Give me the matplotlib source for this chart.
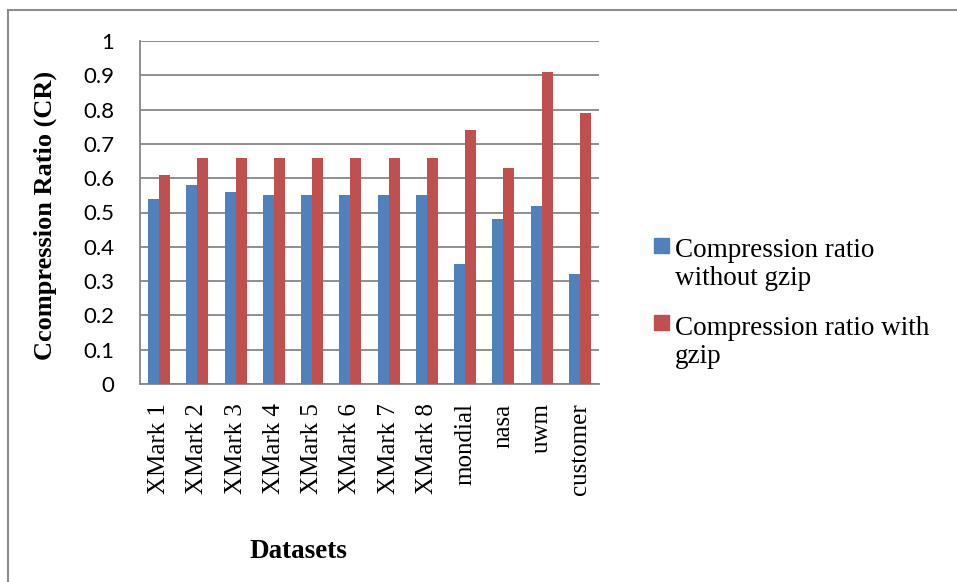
import matplotlib
matplotlib.use('Agg')
import matplotlib.pyplot as plt
import numpy as np
from matplotlib.patches import Rectangle
from matplotlib.lines import Line2D

datasets = ['XMark 1', 'XMark 2', 'XMark 3', 'XMark 4', 'XMark 5', 'XMark 6',
            'XMark 7', 'XMark 8', 'mondial', 'nasa', 'uwm', 'customer']
cr_without_gzip = [0.54, 0.58, 0.56, 0.55, 0.55, 0.55, 0.55, 0.55, 0.35, 0.48, 0.52, 0.32]
cr_with_gzip = [0.61, 0.66, 0.66, 0.66, 0.66, 0.66, 0.66, 0.66, 0.74, 0.63, 0.91, 0.79]
series_names = ['Compression ratio\nwithout gzip', 'Compression ratio with\ngzip']

blue = '#4F81BD'
red = '#C0504D'
grid_gray = '#868686'
serif = 'Liberation Serif'

W, H = 957, 582
fig = plt.figure(figsize=(W / 100, H / 100), dpi=100)
ax = fig.add_axes([140 / W, 1 - 384 / H, 459 / W, 343 / H])

x = np.arange(len(datasets))
bw = 0.29
ax.bar(x - bw / 2, cr_without_gzip, bw, color=blue, zorder=3)
ax.bar(x + bw / 2, cr_with_gzip, bw, color=red, zorder=3)

ax.set_xlim(-0.5, len(datasets) - 0.5)
ax.set_ylim(0, 1)
ax.set_yticks(np.arange(0, 1.01, 0.1))
ax.set_yticklabels(['0'] + ['%.1f' % v for v in np.arange(0.1, 0.95, 0.1)] + ['1'],
                   fontsize=16, family='Lato')
ax.set_xticks(x)
ax.set_xticklabels(datasets, rotation=90, fontsize=18, family=serif, va='top')
ax.tick_params(axis='y', length=0, pad=18.5)
ax.tick_params(axis='x', length=0, pad=14)

ax.grid(axis='y', color=grid_gray, linewidth=1.3, zorder=0)
for s in ['top', 'right']:
    ax.spines[s].set_visible(False)
for s in ['left', 'bottom']:
    ax.spines[s].set_color(grid_gray)
    ax.spines[s].set_linewidth(1.3)

fig.text(45 / W, 1 - 215 / H, 'Ccompression Ratio (CR)', rotation=90,
         ha='center', va='center', fontsize=19, family=serif, fontweight='bold')
fig.text(298 / W, 1 - 552 / H, 'Datasets', ha='center', va='center',
         fontsize=19.5, family=serif, fontweight='bold')

# legend drawn by hand: swatch next to the first line of each entry,
# text placed on the baseline of its last line
for color, name, swatch_top, last_base in [(blue, series_names[0], 238, 285),
                                           (red, series_names[1], 315, 363)]:
    fig.patches.append(Rectangle((654 / W, 1 - (swatch_top + 15) / H), 15 / W, 15 / H,
                                 transform=fig.transFigure, color=color))
    fig.text(675 / W, 1 - last_base / H, name, ha='left', va='baseline',
             fontsize=19.5, family=serif, linespacing=1.15)

# chart border (runs off the right and bottom of the image)
fig.lines.append(Line2D([8 / W, 8 / W], [0, 1 - 10 / H], transform=fig.transFigure,
                        color='#8C8C8C', linewidth=1.5))
fig.lines.append(Line2D([8 / W, 1], [1 - 10 / H, 1 - 10 / H], transform=fig.transFigure,
                        color='#8C8C8C', linewidth=1.5))

fig.savefig('out.png', dpi=100)
